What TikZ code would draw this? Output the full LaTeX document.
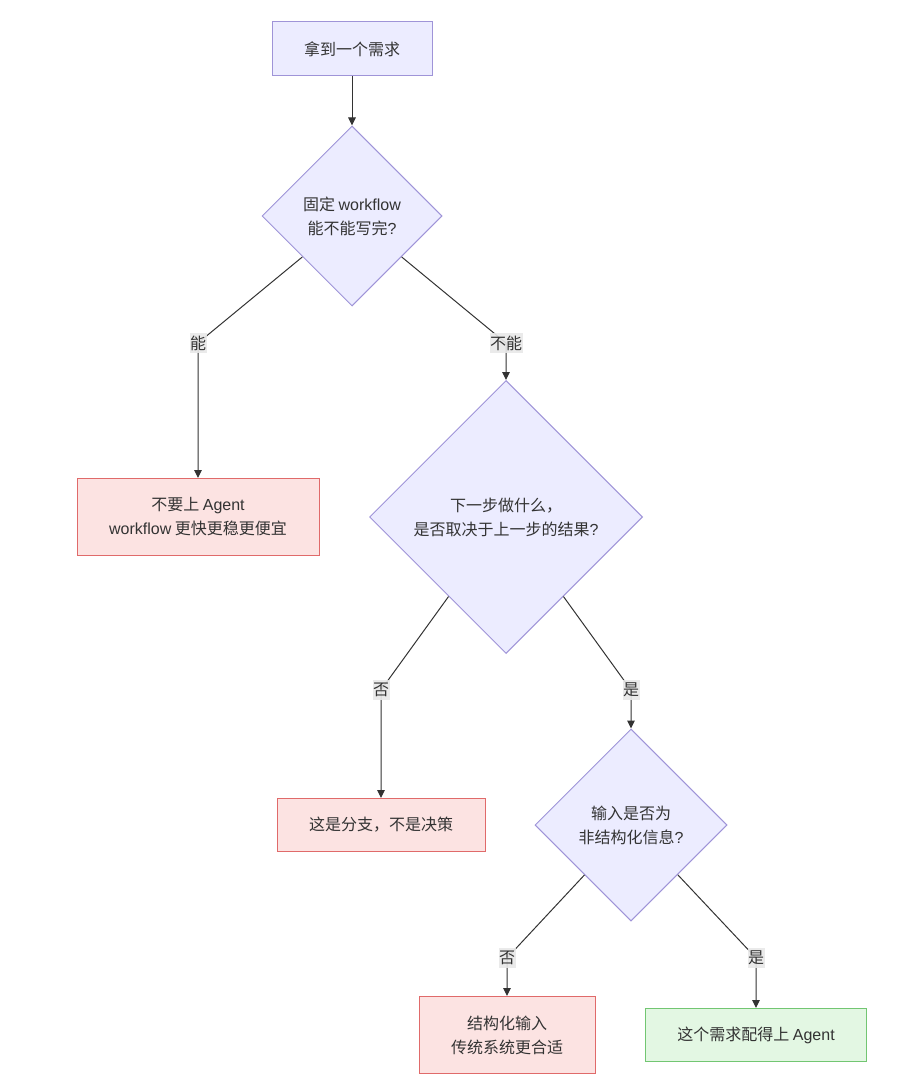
\documentclass[tikz,border=0pt]{standalone}
\usepackage{fontspec}
\setmainfont{Noto Sans CJK SC}
\newfontfamily\lat{Liberation Sans}
\usetikzlibrary{shapes.geometric,arrows.meta}

\definecolor{qfill}{HTML}{ECECFF}
\definecolor{qline}{HTML}{9F94D8}
\definecolor{nofill}{HTML}{FCE3E2}
\definecolor{noline}{HTML}{E06A6A}
\definecolor{yesfill}{HTML}{E3F7E3}
\definecolor{yesline}{HTML}{72C672}
\definecolor{lblfill}{HTML}{E8E8E8}
\definecolor{ink}{HTML}{333333}

\begin{document}
\begin{tikzpicture}[x=1pt,y=-1pt,line width=1pt,draw=ink,
    font=\fontsize{16pt}{24pt}\selectfont,text=ink]
    \tikzstyle{box}=[rectangle,draw=qline,fill=qfill,align=center,inner sep=0pt]
    \tikzstyle{ask}=[diamond,aspect=1,draw=qline,fill=qfill,align=center,inner sep=0pt]
    \tikzstyle{stop}=[box,draw=noline,fill=nofill]
    \tikzstyle{go}=[box,draw=yesline,fill=yesfill]
    \tikzstyle{lbl}=[fill=lblfill,fill opacity=0.9,text opacity=1,inner xsep=0.5pt,inner ysep=3pt]
    \tikzstyle{flow}=[ink,-{Triangle[length=8pt,width=7.5pt]}]

\useasboundingbox (0,0) rectangle (903,1091);

% questions
\node[box,minimum width=160pt,minimum height=54pt] (start) at (352,49) {拿到一个需求};
\node[ask,minimum width=180pt,minimum height=180pt] (q1) at (352,216) {固定 {\lat workflow}\\能不能写完{\lat ?}};
\node[ask,minimum width=273pt,minimum height=273pt] (q2) at (506,517) {下一步做什么，\\是否取决于上一步的结果{\lat ?}};
\node[ask,minimum width=192pt,minimum height=192pt] (q3) at (631,825) {输入是否为\\非结构化信息{\lat ?}};

% outcomes
\node[stop,minimum width=242pt,minimum height=77pt] (noagent) at (198,517) {不要上 {\lat Agent}\\{\lat workflow} 更快更稳更便宜};
\node[stop,minimum width=208pt,minimum height=53pt] (branch) at (381,825) {这是分支，不是决策};
\node[stop,minimum width=176pt,minimum height=77pt] (legacy) at (507,1035) {结构化输入\\传统系统更合适};
\node[go,minimum width=221pt,minimum height=53pt] (agent) at (756,1035) {这个需求配得上 {\lat Agent}};

% bends where the labels sit
\coordinate (k1) at (198,343);
\coordinate (k2) at (506,343);
\coordinate (k3) at (381,690);
\coordinate (k4) at (631,690);
\coordinate (k5) at (507,958);
\coordinate (k6) at (756,958);

\draw[flow] (start) -- (q1);
\draw[flow] (q1) -- (k1) -- (noagent);
\draw[flow] (q1) -- (k2) -- (q2);
\draw[flow] (q2) -- (k3) -- (branch);
\draw[flow] (q2) -- (k4) -- (q3);
\draw[flow] (q3) -- (k5) -- (legacy);
\draw[flow] (q3) -- (k6) -- (agent);

\node[lbl] (l1) at (k1) {能};
\node[lbl] (l2) at (k2) {不能};
\node[lbl] (l3) at (k3) {否};
\node[lbl] (l4) at (k4) {是};
\node[lbl] (l5) at (k5) {否};
\node[lbl] (l6) at (k6) {是};
\end{tikzpicture}
\end{document}
